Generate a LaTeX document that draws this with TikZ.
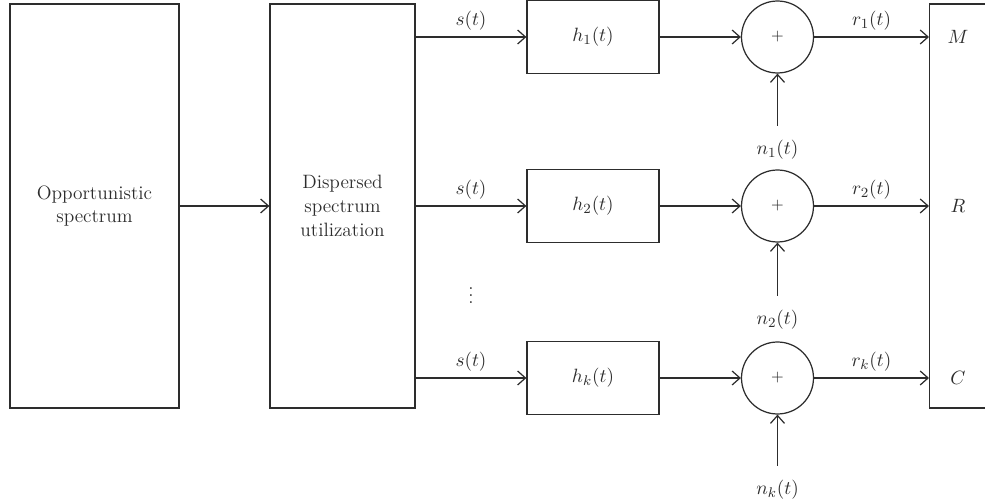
\documentclass[tikz,border=0pt]{standalone}
\usepackage{amsmath, amssymb}
\usepackage{tikz}
\usetikzlibrary{calc}
\usetikzlibrary{positioning, arrows.meta, shapes.geometric}
\usepackage{xcolor}
\definecolor{LineColor}{RGB}{45, 45, 45}

\begin{document}
\begin{tikzpicture}[x=0.02cm, y=-0.02cm, >={Straight Barb[length=4.5pt, width=8pt]}, line width=0.7pt,
  color=LineColor, every node/.style={font=\fontsize{11}{13.5}\selectfont},
  block/.style={draw, rectangle, align=center},
  hbox/.style={block, minimum width=2.64cm, minimum height=1.46cm},
  adder/.style={draw, circle, minimum size=1.44cm, inner sep=0pt},
  noise/.style={outer sep=5pt}]

\useasboundingbox (0,0) rectangle (985,503);

\node[block, minimum width=3.38cm, minimum height=8.08cm] (opp) at (94.5,206) {Opportunistic\\spectrum};
\node[block, minimum width=2.9cm, minimum height=8.08cm]  (dsu) at (342.5,206) {Dispersed\\spectrum\\utilization};
\node[block, minimum width=3cm, minimum height=8.08cm, anchor=west] (mrc) at (929,206) {};

\node[hbox] (h1) at (593,37)  {$h_1(t)$};
\node[hbox] (h2) at (593,206) {$h_2(t)$};
\node[hbox] (hk) at (593,378) {$h_k(t)$};

\node[adder] (sum1) at (777.5,37)  {\small$+$};
\node[adder] (sum2) at (777.5,206) {\small$+$};
\node[adder] (sumk) at (777.5,378) {\small$+$};

\node[noise] (n1) at (777.5,150) {$n_1(t)$};
\node[noise] (n2) at (777.5,320) {$n_2(t)$};
\node[noise] (nk) at (777.5,490) {$n_k(t)$};

\node (M) at (958,37)  {$M$};
\node (R) at (958,206) {$R$};
\node (C) at (958,378) {$C$};

\node (dots) at (471,290) {$\vdots$};

\draw[->] (opp) -- (dsu);

\draw[->] (dsu.east |- h1) -- node[above] {$s(t)$} (h1);
\draw[->] (dsu.east |- h2) -- node[above] {$s(t)$} (h2);
\draw[->] (dsu.east |- hk) -- node[above] {$s(t)$} (hk);

\draw[->] (h1) -- (sum1);
\draw[->] (h2) -- (sum2);
\draw[->] (hk) -- (sumk);

\draw[->] (n1) -- (sum1);
\draw[->] (n2) -- (sum2);
\draw[->] (nk) -- (sumk);

\draw[->] (sum1) -- node[above] {$r_1(t)$} (mrc.west |- sum1);
\draw[->] (sum2) -- node[above] {$r_2(t)$} (mrc.west |- sum2);
\draw[->] (sumk) -- node[above] {$r_k(t)$} (mrc.west |- sumk);

\end{tikzpicture}
\end{document}
